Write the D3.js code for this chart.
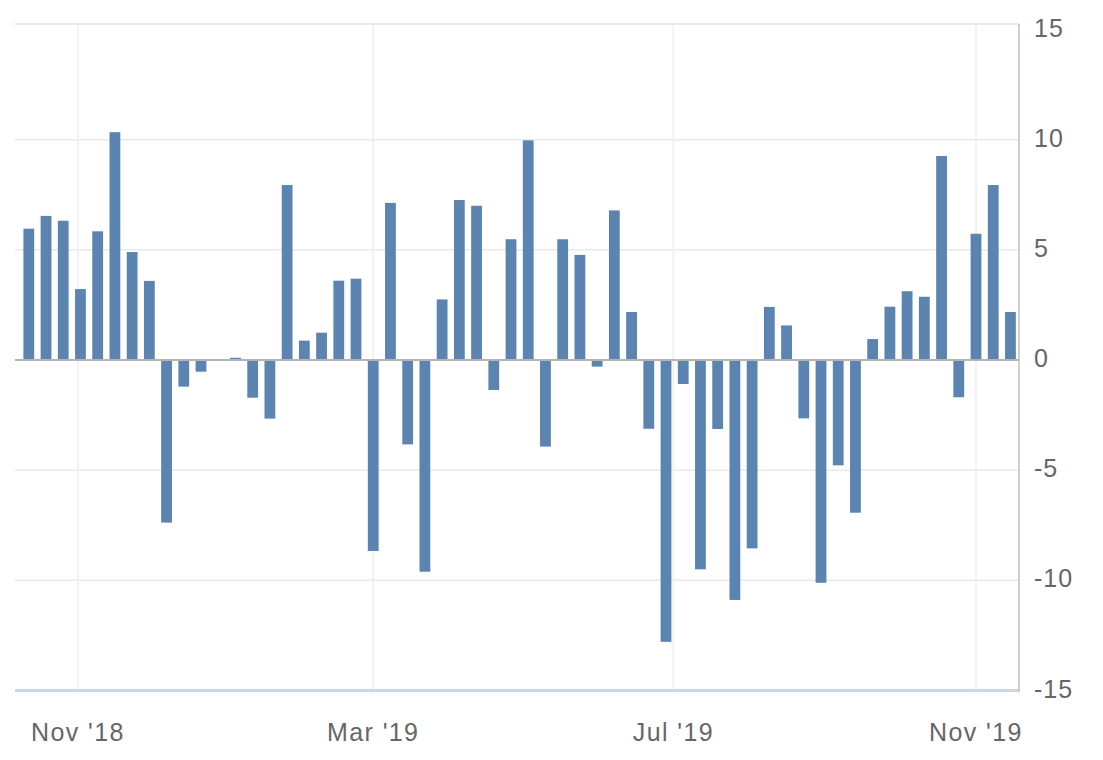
<!DOCTYPE html>
<html>
<head>
<meta charset="utf-8">
<script src="https://cdn.jsdelivr.net/npm/d3@7"></script>
<style>
  html, body { margin: 0; padding: 0; background: #fff; }
  svg { display: block; }
  text { font-family: "Liberation Sans", Arial, sans-serif; fill: #666; }
</style>
</head>
<body>
<svg id="chart" width="1103" height="760"></svg>
<script>
const dates = [
  "2018-10-12","2018-10-19","2018-10-26","2018-11-02","2018-11-09","2018-11-16","2018-11-23","2018-11-30",
  "2018-12-07","2018-12-14","2018-12-21","2018-12-28","2019-01-04","2019-01-11","2019-01-18","2019-01-25",
  "2019-02-01","2019-02-08","2019-02-15","2019-02-22","2019-03-01","2019-03-08","2019-03-15","2019-03-22",
  "2019-03-29","2019-04-05","2019-04-12","2019-04-19","2019-04-26","2019-05-03","2019-05-10","2019-05-17",
  "2019-05-24","2019-05-31","2019-06-07","2019-06-14","2019-06-21","2019-06-28","2019-07-05","2019-07-12",
  "2019-07-19","2019-07-26","2019-08-02","2019-08-09","2019-08-16","2019-08-23","2019-08-30","2019-09-06",
  "2019-09-13","2019-09-20","2019-09-27","2019-10-04","2019-10-11","2019-10-18","2019-10-25","2019-11-01",
  "2019-11-08","2019-11-15"
];
const values = [
  5.96, 6.54, 6.32, 3.22, 5.84, 10.34, 4.9, 3.59,
  -7.38, -1.21, -0.53, 0, 0.1, -1.71, -2.66, 7.94,
  0.88, 1.24, 3.6, 3.69, -8.67, 7.13, -3.83, -9.61,
  2.75, 7.26, 7.0, -1.36, 5.48, 9.97, -3.93, 5.48,
  4.77, -0.3, 6.79, 2.18, -3.12, -12.79, -1.09, -9.5,
  -3.13, -10.89, -8.55, 2.41, 1.57, -2.65, -10.11, -4.78,
  -6.93, 0.95, 2.42, 3.12, 2.87, 9.26, -1.69, 5.73,
  7.94, 2.18
];
const xTickDates = ["2018-11-01", "2019-03-01", "2019-07-01", "2019-11-01"];
const xTickLabels = ["Nov '18", "Mar '19", "Jul '19", "Nov '19"];
const yTicks = [-15, -10, -5, 0, 5, 10, 15];

const parse = d3.utcParse("%Y-%m-%d");
const data = dates.map((d, i) => ({ date: parse(d), value: values[i] }));

const plotLeft = 15, plotRight = 1019, plotTop = 24, plotBottom = 690.5;
// calibrate time scale: Nov 1 2018 -> 78, Nov 1 2019 -> 976
const cal = d3.scaleUtc().domain([parse("2018-11-01"), parse("2019-11-01")]).range([78, 976]);
const x = d3.scaleUtc().domain([cal.invert(plotLeft), cal.invert(plotRight)]).range([plotLeft, plotRight]);
const y = d3.scaleLinear().domain([-15, 15]).range([plotBottom, 29.5]);

const svg = d3.select("#chart");

// horizontal gridlines
svg.append("g").selectAll("line").data(yTicks.filter(t => t !== 0 && t !== -15 && t !== 15)).join("line")
  .attr("x1", plotLeft).attr("x2", plotRight)
  .attr("y1", d => y(d)).attr("y2", d => y(d))
  .attr("stroke", "#e9e9e9").attr("stroke-width", 1.5);

// vertical gridlines
svg.append("g").selectAll("line").data(xTickDates.map(parse)).join("line")
  .attr("x1", d => x(d)).attr("x2", d => x(d))
  .attr("y1", plotTop).attr("y2", plotBottom)
  .attr("stroke", "#eeeeee").attr("stroke-width", 1.5);

// bars
const bw = 10.8;
svg.append("g").selectAll("rect").data(data.filter(d => d.value !== 0)).join("rect")
  .attr("x", d => x(d.date) - bw / 2)
  .attr("width", bw)
  .attr("y", d => Math.min(y(d.value), y(0)))
  .attr("height", d => Math.abs(y(d.value) - y(0)))
  .attr("fill", "#5b84b1");

// zero line
svg.append("line")
  .attr("x1", plotLeft).attr("x2", plotRight)
  .attr("y1", y(0)).attr("y2", y(0))
  .attr("stroke", "#b4b4b4").attr("stroke-width", 2);

// top frame
svg.append("line")
  .attr("x1", plotLeft).attr("x2", plotRight)
  .attr("y1", plotTop).attr("y2", plotTop)
  .attr("stroke", "#e3e3e3").attr("stroke-width", 1.5);

// bottom axis line
svg.append("line")
  .attr("x1", plotLeft).attr("x2", plotRight)
  .attr("y1", plotBottom).attr("y2", plotBottom)
  .attr("stroke", "#ccd6e6").attr("stroke-width", 3);

// right axis line
svg.append("line")
  .attr("x1", plotRight).attr("x2", plotRight)
  .attr("y1", plotTop).attr("y2", plotBottom + 1.5)
  .attr("stroke", "#c0c0c0").attr("stroke-width", 1.5);

// y labels
svg.append("g").selectAll("text").data(yTicks).join("text")
  .attr("x", 1034)
  .attr("y", d => y(d) - 2)
  .attr("dy", "0.36em")
  .attr("font-size", 25)
  .attr("letter-spacing", 1)
  .text(d => d);

// x labels
svg.append("g").selectAll("text").data(xTickDates).join("text")
  .attr("x", d => x(parse(d)))
  .attr("y", 741)
  .attr("text-anchor", "middle")
  .attr("font-size", 25)
  .attr("letter-spacing", 1.4)
  .text((d, i) => xTickLabels[i]);
</script>
</body>
</html>
